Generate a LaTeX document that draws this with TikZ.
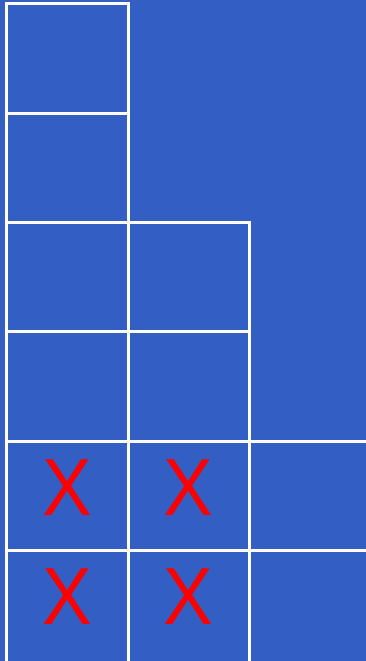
\documentclass[tikz,border=0pt]{standalone}
\usepackage{fontspec}
\setmainfont{Liberation Sans}
\definecolor{boardblue}{RGB}{51,94,196}

\begin{document}
\begin{tikzpicture}[x=1pt,y=-1pt]
  \useasboundingbox (0,0) rectangle (366,661);
  \fill[boardblue] (0,0) rectangle (366,661);
  \tikzset{gridline/.style={white,line width=3pt},
           cross/.style={text=red,font=\fontsize{81}{81}\selectfont,inner sep=0pt,xscale=0.92}}
  % vertical lines
  \foreach \x/\top in {6/4,128/4,249/222} {
    \draw[gridline] (\x,\top-1.5) -- (\x,664);
  }
  % horizontal lines
  \foreach \y/\right in {4/128,113/128,222/249,331.5/249,441/370,550/370} {
    \draw[gridline] (4.5,\y) -- (\right+1.5,\y);
  }
  \foreach \c/\x in {1/67,2/188} {
    \node[cross] (x5\c) at (\x,488) {X};
    \node[cross] (x6\c) at (\x,597) {X};
  }
\end{tikzpicture}
\end{document}
